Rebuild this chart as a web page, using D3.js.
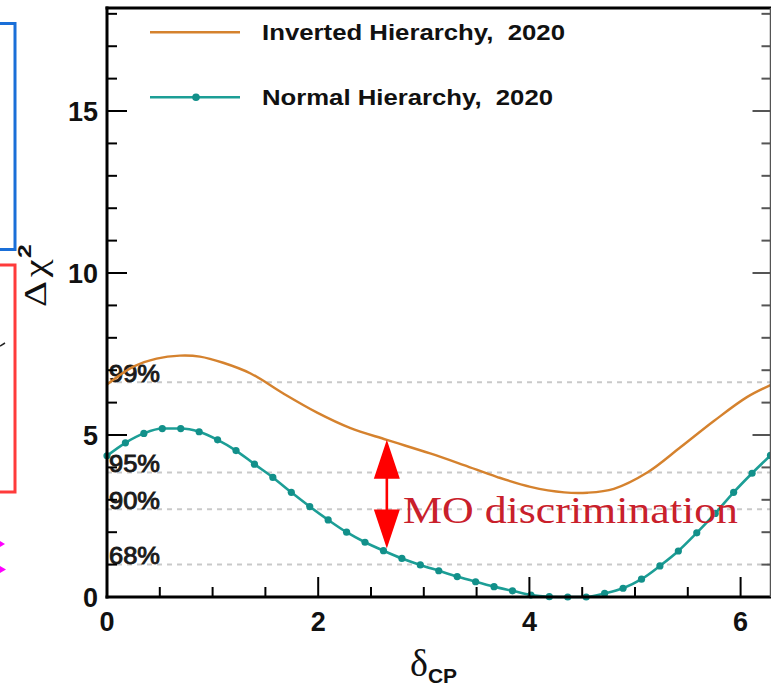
<!DOCTYPE html>
<html>
<head>
<meta charset="utf-8">
<script src="https://cdn.jsdelivr.net/npm/d3@7"></script>
<style>
  html, body { margin: 0; padding: 0; background: #ffffff; }
  svg { display: block; }
</style>
</head>
<body>
<svg id="chart" width="771" height="688"></svg>
<script>
// delta_CP sampling (degrees) for the normal-hierarchy curve
const nhDeltaDeg = [0,10,20,30,40,50,60,70,80,90,100,110,120,130,140,150,160,170,180,
                    190,200,210,220,230,240,250,260,270,280,290,300,310,320,330,340,350,360];
const nhChi2 = [4.36,4.76,5.05,5.20,5.20,5.10,4.85,4.52,4.10,3.69,3.23,2.79,2.38,2.00,1.69,1.43,1.19,0.99,0.81,
                0.63,0.47,0.32,0.19,0.06,0.01,0.00,0.00,0.11,0.27,0.55,0.96,1.42,1.98,2.58,3.23,3.82,4.37];

// inverted-hierarchy curve (delta_CP in radians)
const ihDelta = [0.00,0.25,0.47,0.69,0.88,1.10,1.36,1.67,1.99,2.30,2.65,3.06,3.38,3.69,4.01,4.33,4.55,4.80,5.12,5.43,5.75,6.06,6.283];
const ihChi2  = [6.56,7.11,7.36,7.45,7.42,7.23,6.90,6.28,5.69,5.22,4.85,4.43,4.07,3.71,3.40,3.23,3.22,3.34,3.85,4.62,5.44,6.17,6.54];

// confidence-level reference lines
const clValues = [6.63, 3.84, 2.71, 1.00];
const clLabels = ["99%", "95%", "90%", "68%"];

// axis ticks
const xMajorTicks = [0, 2, 4, 6];
const xMinorTicks = d3.range(0, 6.3, 0.5);
const yMajorTicks = [0, 5, 10, 15];
const yMinorTicks = d3.range(0, 19, 1);

// legend entries
const legendLabels = ["Inverted Hierarchy,\u00a0\u00a02020", "Normal Hierarchy,\u00a0\u00a02020"];

// mass-ordering discrimination arrow: [delta_CP, upper chi2, lower chi2]
const moArrow = [2.65, 4.85, 1.50];
const moLabel = "MO discrimination";

const orange = "#d5822e";
const teal = "#1c9e96";
const tealDot = "#12908a";
const sans = "'Liberation Sans', Arial, Helvetica, sans-serif";
const serif = "'Liberation Serif', 'Times New Roman', serif";

const svg = d3.select("#chart");

const x = d3.scaleLinear().domain([0, 2 * Math.PI]).range([107, 770.5]);
const y = d3.scaleLinear().domain([0, 18.18]).range([597, 8]);

// --- decorations at the left margin (neighbouring slide boxes) ---
svg.append("rect").attr("x", -10).attr("y", 23.5).attr("width", 25).attr("height", 226)
  .attr("fill", "none").attr("stroke", "#1a6fd8").attr("stroke-width", 3);
svg.append("rect").attr("x", -10).attr("y", 265).attr("width", 25).attr("height", 227)
  .attr("fill", "none").attr("stroke", "#ff3b3b").attr("stroke-width", 3);
svg.append("path").attr("d", "M0,346 L5,343").attr("fill", "none").attr("stroke", "#222").attr("stroke-width", 1.5);
svg.append("path").attr("d", "M0,541 L5,544 L0,547 Z").attr("fill", "#ff00ff");
svg.append("path").attr("d", "M0,566 L6,569.5 L0,573 Z").attr("fill", "#ff00ff");

// --- confidence-level dashed lines ---
const plot = svg.append("g");
plot.selectAll("line.cl").data(clValues).join("line")
  .attr("class", "cl")
  .attr("x1", x(0)).attr("x2", x(2 * Math.PI))
  .attr("y1", d => y(d)).attr("y2", d => y(d))
  .attr("stroke", "#c9c9c9").attr("stroke-width", 2).attr("stroke-dasharray", "5,5");

plot.selectAll("text.cl").data(clValues).join("text")
  .attr("class", "cl")
  .attr("x", 109).attr("y", d => y(d) - 0.5)
  .attr("font-family", sans).attr("font-size", 23).attr("fill", "#1a1a1a")
  .attr("stroke", "#1a1a1a").attr("stroke-width", 0.9)
  .attr("textLength", 51).attr("lengthAdjust", "spacingAndGlyphs")
  .text((d, i) => clLabels[i]);

// --- curves ---
svg.append("clipPath").attr("id", "plotclip").append("rect")
  .attr("x", x(0) - 6).attr("y", y(18.18)).attr("width", x(2 * Math.PI) - x(0) + 12).attr("height", y(0) - y(18.18) + 6);

const curves = svg.append("g").attr("clip-path", "url(#plotclip)");

const ihPoints = ihDelta.map((d, i) => [d, ihChi2[i]]);
const nhPoints = nhDeltaDeg.map((d, i) => [d * Math.PI / 180, nhChi2[i]]);

const smooth = d3.line().x(d => x(d[0])).y(d => y(d[1])).curve(d3.curveCatmullRom.alpha(0.5));
const mono = d3.line().x(d => x(d[0])).y(d => y(d[1])).curve(d3.curveMonotoneX);

curves.append("path").datum(ihPoints).attr("d", smooth)
  .attr("fill", "none").attr("stroke", orange).attr("stroke-width", 2.4);

curves.append("path").datum(nhPoints).attr("d", mono)
  .attr("fill", "none").attr("stroke", teal).attr("stroke-width", 2.6);

curves.selectAll("circle.nh").data(nhPoints).join("circle")
  .attr("class", "nh")
  .attr("cx", d => x(d[0])).attr("cy", d => y(d[1])).attr("r", 3.6)
  .attr("fill", tealDot);

// --- axes frame and ticks ---
const axes = svg.append("g").attr("stroke", "#000");
const x0 = x(0), x1 = x(2 * Math.PI), y0 = y(0), yTop = y(18.18);

// bottom ticks (pointing up)
axes.selectAll("line.xminor").data(xMinorTicks.filter(t => xMajorTicks.indexOf(t) < 0)).join("line")
  .attr("x1", d => x(d)).attr("x2", d => x(d)).attr("y1", y0).attr("y2", y0 - 10).attr("stroke-width", 2);
axes.selectAll("line.xmajor").data(xMajorTicks).join("line")
  .attr("x1", d => x(d)).attr("x2", d => x(d)).attr("y1", y0).attr("y2", y0 - 20).attr("stroke-width", 2);

// left ticks (pointing right)
axes.selectAll("line.yminor").data(yMinorTicks.filter(t => yMajorTicks.indexOf(t) < 0)).join("line")
  .attr("x1", x0).attr("x2", x0 + 10).attr("y1", d => y(d)).attr("y2", d => y(d)).attr("stroke-width", 2);
axes.selectAll("line.ymajor").data(yMajorTicks).join("line")
  .attr("x1", x0).attr("x2", x0 + 20).attr("y1", d => y(d)).attr("y2", d => y(d)).attr("stroke-width", 2);

// right ticks (pointing left)
axes.selectAll("line.rminor").data(yMinorTicks.filter(t => yMajorTicks.indexOf(t) < 0)).join("line")
  .attr("x1", x1).attr("x2", x1 - 9).attr("y1", d => y(d)).attr("y2", d => y(d)).attr("stroke-width", 2).attr("stroke", "#555");
axes.selectAll("line.rmajor").data(yMajorTicks).join("line")
  .attr("x1", x1).attr("x2", x1 - 18).attr("y1", d => y(d)).attr("y2", d => y(d)).attr("stroke-width", 2).attr("stroke", "#555");

// frame
axes.append("line").attr("x1", x0).attr("x2", x0).attr("y1", yTop - 1.5).attr("y2", y0 + 1.5).attr("stroke-width", 3);
axes.append("line").attr("x1", x0 - 1.5).attr("x2", 771).attr("y1", y0).attr("y2", y0).attr("stroke-width", 3);
axes.append("line").attr("x1", x0 - 1.5).attr("x2", 771).attr("y1", yTop).attr("y2", yTop).attr("stroke-width", 3);
axes.append("line").attr("x1", x1).attr("x2", x1).attr("y1", yTop).attr("y2", y0).attr("stroke-width", 1.5).attr("stroke", "#555");

// tick labels
svg.selectAll("text.ylab").data(yMajorTicks).join("text")
  .attr("class", "ylab")
  .attr("x", 98).attr("y", d => y(d) + 10)
  .attr("text-anchor", "end")
  .attr("font-family", sans).attr("font-weight", "bold").attr("font-size", 27).attr("fill", "#111")
  .text(d => d);

svg.selectAll("text.xlab").data(xMajorTicks).join("text")
  .attr("class", "xlab")
  .attr("x", d => x(d)).attr("y", 631)
  .attr("text-anchor", "middle")
  .attr("font-family", sans).attr("font-weight", "bold").attr("font-size", 27).attr("fill", "#111")
  .text(d => d);

// axis titles
const xt = svg.append("text").attr("x", 410).attr("y", 676).attr("fill", "#111");
xt.append("tspan").attr("font-family", serif).attr("font-size", 38).text("δ");
xt.append("tspan").attr("font-family", sans).attr("font-weight", "bold").attr("font-size", 21).attr("dy", 7).text("CP");

const yt = svg.append("text").attr("transform", "translate(46,307) rotate(-90) scale(1.3,1)").attr("fill", "#111");
yt.append("tspan").attr("font-family", serif).attr("font-size", 31).text("Δ");
yt.append("tspan").attr("font-family", serif).attr("font-size", 31).attr("dx", 3).text("χ");
yt.append("tspan").attr("font-family", sans).attr("font-weight", "bold").attr("font-size", 19).attr("dx", 1).attr("dy", -15).text("2");

// legend
const legend = svg.append("g");
const legendRows = [32.3, 97.3];
legend.append("line").attr("x1", 150).attr("x2", 240).attr("y1", legendRows[0]).attr("y2", legendRows[0])
  .attr("stroke", orange).attr("stroke-width", 2.6);
legend.append("line").attr("x1", 150).attr("x2", 240).attr("y1", legendRows[1]).attr("y2", legendRows[1])
  .attr("stroke", teal).attr("stroke-width", 2.6);
legend.append("circle").attr("cx", 196).attr("cy", legendRows[1]).attr("r", 3.8).attr("fill", tealDot);
const legendWidths = [303, 291];
legend.selectAll("text").data(legendLabels).join("text")
  .attr("x", 262).attr("y", (d, i) => legendRows[i] + 7.5)
  .attr("font-family", sans).attr("font-weight", "bold").attr("font-size", 22).attr("fill", "#111")
  .attr("textLength", (d, i) => legendWidths[i]).attr("lengthAdjust", "spacingAndGlyphs")
  .text(d => d);

// mass-ordering discrimination arrow
const ax = x(moArrow[0]);
const aTop = y(moArrow[1]);
const aBot = y(moArrow[2]);
const headLen = 39, headHalf = 13;
const arrow = svg.append("g").attr("fill", "#ff0000");
arrow.append("rect").attr("x", ax - 1.3).attr("y", aTop + headLen - 1).attr("width", 2.6).attr("height", aBot - aTop - 2 * headLen + 2);
arrow.append("path").attr("d", `M${ax},${aTop} L${ax - headHalf},${aTop + headLen} L${ax + headHalf},${aTop + headLen} Z`);
arrow.append("path").attr("d", `M${ax},${aBot} L${ax - headHalf},${aBot - headLen} L${ax + headHalf},${aBot - headLen} Z`);

svg.append("text").attr("x", 403).attr("y", 523)
  .attr("font-family", serif).attr("font-size", 37).attr("fill", "#c9202b")
  .attr("textLength", 335).attr("lengthAdjust", "spacingAndGlyphs")
  .text(moLabel);
</script>
</body>
</html>
